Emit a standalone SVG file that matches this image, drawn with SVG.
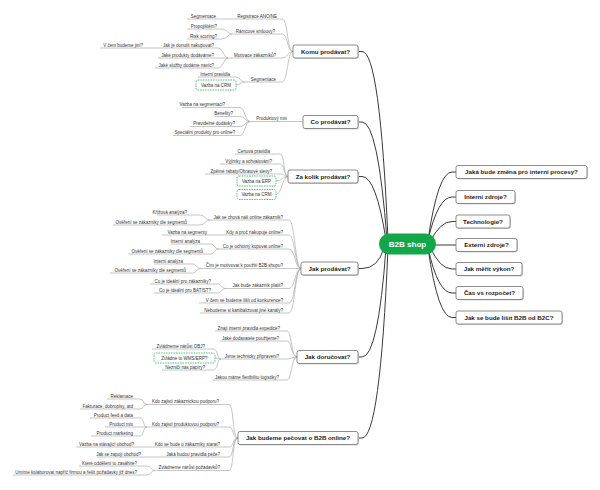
<svg xmlns="http://www.w3.org/2000/svg" width="600" height="490" viewBox="0 0 600 490">
<style>
.k{fill:none;stroke:#3a3a3a;stroke-width:1}
.c{fill:none;stroke:#a0a0a0;stroke-width:0.6}
.u{fill:none;stroke:#a0a0a0;stroke-width:0.6}
.t{font-family:"Liberation Sans",Arial,sans-serif;font-size:4.5px;fill:#333;text-anchor:end}
.sh{fill:#d6d6d6}
.bx{fill:#fff;stroke:#707070;stroke-width:0.8}
.mt{font-family:"Liberation Sans",Arial,sans-serif;font-size:6.2px;font-weight:bold;fill:#222;text-anchor:middle}
.g{fill:#fff;stroke:#3cc46b;stroke-width:0.9;stroke-dasharray:1.6 0.9}
.gt{font-family:"Liberation Sans",Arial,sans-serif;font-size:4.5px;fill:#333;text-anchor:middle}
</style>
<rect width="600" height="490" fill="#fff"/>
<g id="connectors">
<path class="k" d="M388 240 Q380 51.5 362 51.5 H358"/>
<path class="k" d="M387 240 Q378 122 362 122 H358"/>
<path class="k" d="M386 240 Q376 176.5 362 176.5 H358"/>
<path class="k" d="M384 248 Q378 268.5 362 268.5 H358"/>
<path class="k" d="M386 248 Q378 357 362 357 H358"/>
<path class="k" d="M388 248 Q380 438 362 438 H358"/>
<path class="k" d="M428 240 Q438 172 452 172 H456"/>
<path class="k" d="M428 240 Q438 197 452 197 H456"/>
<path class="k" d="M430 242 Q440 221.5 452 221.5 H456"/>
<path class="k" d="M434 245 H456"/>
<path class="k" d="M430 247 Q440 269 452 269 H456"/>
<path class="k" d="M428 248 Q438 293 452 293 H456"/>
<path class="k" d="M428 248 Q438 317.5 452 317.5 H456"/>
<path class="c" d="M293 51.5 C287 51.5 288 19 282 19"/>
<path class="c" d="M293 51.5 C287 51.5 288 34 282 34"/>
<path class="c" d="M293 51.5 C287 51.5 288 58 282 58"/>
<path class="c" d="M293 51.5 C287 51.5 288 82 282 82"/>
<path class="c" d="M232 34 C228 34 227 29 222 29"/>
<path class="c" d="M232 34 C228 34 227 39 222 39"/>
<path class="c" d="M228 58 C224 58 223 48 218 48"/>
<path class="c" d="M228 58 H218"/>
<path class="c" d="M228 58 C224 58 223 68 218 68"/>
<path class="c" d="M245 82 C241 82 240 77 236 77"/>
<path class="c" d="M245 82 C241 82 240 85 236 85"/>
<path class="c" d="M250 121.5 C245 121.5 245 107.5 240 107.5"/>
<path class="c" d="M250 121.5 C245 121.5 245 116.5 240 116.5"/>
<path class="c" d="M250 121.5 C245 121.5 245 126.5 240 126.5"/>
<path class="c" d="M250 121.5 C245 121.5 245 135.5 240 135.5"/>
<path class="c" d="M288 176.5 C283 176.5 285 154 280 154"/>
<path class="c" d="M288 176.5 C283 176.5 285 164 280 164"/>
<path class="c" d="M288 176.5 C283 176.5 285 174 280 174"/>
<path class="c" d="M288 176.5 C282 176.5 282 181 276 181"/>
<path class="c" d="M288 176.5 C282 176.5 282 194.5 276 194.5"/>
<path class="c" d="M301 268.5 C295 268.5 295 220 289 220"/>
<path class="c" d="M301 268.5 C295 268.5 295 235 289 235"/>
<path class="c" d="M301 268.5 C295 268.5 295 249 289 249"/>
<path class="c" d="M301 268.5 H289"/>
<path class="c" d="M301 268.5 C295 268.5 295 288.5 289 288.5"/>
<path class="c" d="M301 268.5 C295 268.5 295 303 289 303"/>
<path class="c" d="M301 268.5 C295 268.5 295 313 289 313"/>
<path class="c" d="M210 220 C205 220 205 215 200 215"/>
<path class="c" d="M210 220 C205 220 205 225 200 225"/>
<path class="c" d="M219 249 C214 249 215 244 210 244"/>
<path class="c" d="M219 249 C214 249 215 254 210 254"/>
<path class="c" d="M201 268.5 C196 268.5 197 264 192 264"/>
<path class="c" d="M201 268.5 C196 268.5 197 273 192 273"/>
<path class="c" d="M226 288.5 C221 288.5 222 284 217 284"/>
<path class="c" d="M226 288.5 C221 288.5 222 293 217 293"/>
<path class="c" d="M297 357 C291 357 292 331 287 331"/>
<path class="c" d="M297 357 C291 357 292 341 287 341"/>
<path class="c" d="M297 357 C291 357 292 359 287 359"/>
<path class="c" d="M297 357 C291 357 292 380 287 380"/>
<path class="c" d="M221 359 C217 359 218 349 213 349"/>
<path class="c" d="M221 359 C218 359 218 358 215 358"/>
<path class="c" d="M221 359 C217 359 218 370 213 370"/>
<path class="c" d="M238 438 C232 438 234 404.5 229 404.5"/>
<path class="c" d="M238 438 C232 438 234 427 229 427"/>
<path class="c" d="M238 438 C232 438 234 447 229 447"/>
<path class="c" d="M238 438 C232 438 234 457 229 457"/>
<path class="c" d="M238 438 C232 438 234 470.5 229 470.5"/>
<path class="c" d="M147 404.5 C143 404.5 144 399 140 399"/>
<path class="c" d="M147 404.5 C143 404.5 144 409 140 409"/>
<path class="c" d="M147 427 C143 427 144 418 140 418"/>
<path class="c" d="M147 427 H140"/>
<path class="c" d="M147 427 C143 427 144 436 140 436"/>
<path class="c" d="M155 470.5 C151 470.5 151 466 147 466"/>
<path class="c" d="M155 470.5 C151 470.5 151 475 147 475"/>
</g>

<g id="center">
<rect x="379" y="233.5" width="57" height="21" rx="10.5" fill="#12a84a"/>
<text x="407.5" y="247" font-family="Liberation Sans, Arial, sans-serif" font-size="8" font-weight="bold" fill="#fff" text-anchor="middle">B2B shop</text>
</g>

<g id="r-procesy"><rect class="sh" x="457" y="166.5" width="131" height="13" rx="2"/><rect class="bx" x="456" y="165.5" width="131" height="13" rx="2"/><text class="mt" x="521.5" y="174.2">Jaká bude změna pro interní procesy?</text></g>
<g id="r-interni"><rect class="sh" x="457" y="191.5" width="59" height="13" rx="2"/><rect class="bx" x="456" y="190.5" width="59" height="13" rx="2"/><text class="mt" x="485.5" y="199.2">Interní zdroje?</text></g>
<g id="r-technologie"><rect class="sh" x="457" y="216" width="54" height="13" rx="2"/><rect class="bx" x="456" y="215" width="54" height="13" rx="2"/><text class="mt" x="483" y="223.7">Technologie?</text></g>
<g id="r-externi"><rect class="sh" x="457" y="239.5" width="61" height="13" rx="2"/><rect class="bx" x="456" y="238.5" width="61" height="13" rx="2"/><text class="mt" x="486.5" y="247.2">Externí zdroje?</text></g>
<g id="r-vykon"><rect class="sh" x="457" y="263.5" width="66" height="13" rx="2"/><rect class="bx" x="456" y="262.5" width="66" height="13" rx="2"/><text class="mt" x="489" y="271.2">Jak měřit výkon?</text></g>
<g id="r-cas"><rect class="sh" x="457" y="287.5" width="67" height="13" rx="2"/><rect class="bx" x="456" y="286.5" width="67" height="13" rx="2"/><text class="mt" x="489.5" y="295.2">Čas vs rozpočet?</text></g>
<g id="r-lisit"><rect class="sh" x="457" y="312" width="106" height="13" rx="2"/><rect class="bx" x="456" y="311" width="106" height="13" rx="2"/><text class="mt" x="509" y="319.7">Jak se bude lišit B2B od B2C?</text></g>

<g id="komu"><rect class="sh" x="294" y="46" width="65" height="13" rx="2"/><rect class="bx" x="293" y="45" width="65" height="13" rx="2"/><text class="mt" x="325.5" y="53.7">Komu prodávat?</text></g>
<g id="k-registrace"><path class="u" d="M233 19H282"/><text class="t" x="277" y="17.7">Registrace ANO/NE</text></g>
<g id="k-segmentace-a"><path class="u" d="M187 19H233"/><text class="t" x="216" y="17.7">Segmentace</text></g>
<g id="k-ramcove"><path class="u" d="M232 34H282"/><text class="t" x="275" y="32.7">Rámcové smlouvy?</text></g>
<g id="k-propojisteni"><path class="u" d="M187 29H222"/><text class="t" x="217" y="27.7">Propojištění?</text></g>
<g id="k-risk"><path class="u" d="M187 39H222"/><text class="t" x="217" y="37.7">Risk scoring?</text></g>
<g id="k-motivace"><path class="u" d="M228 58H282"/><text class="t" x="276" y="56.7">Motivace zákazníků?</text></g>
<g id="k-donutit"><path class="u" d="M158 48H218"/><text class="t" x="214" y="46.7">Jak je donutit nakupovat?</text></g>
<g id="k-jini"><path class="u" d="M100 48H158"/><text class="t" x="143" y="46.7">V čem budeme jiní?</text></g>
<g id="k-produkty"><path class="u" d="M158 58H218"/><text class="t" x="214" y="56.7">Jaké produkty dodáváme?</text></g>
<g id="k-sluzby"><path class="u" d="M155 68H218"/><text class="t" x="214" y="66.7">Jaké služby dodáme navíc?</text></g>
<g id="k-segmentace-b"><path class="u" d="M245 82H282"/><text class="t" x="276" y="80.7">Segmentace</text></g>
<g id="k-pravidla"><path class="u" d="M198 77H236"/><text class="t" x="230" y="75.7">Interní pravidla</text></g>
<g id="k-crm"><rect class="g" x="196" y="80" width="40" height="10" rx="2"/><text class="gt" x="216" y="86.6">Vazba na CRM</text></g>

<g id="co"><rect class="sh" x="304" y="116.5" width="55" height="13" rx="2"/><rect class="bx" x="303" y="115.5" width="55" height="13" rx="2"/><text class="mt" x="330.5" y="124.2">Co prodávat?</text></g>
<g id="c-mix"><path class="u" d="M250 121.5H303"/><text class="t" x="287" y="120.2">Produktový mix</text></g>
<g id="c-segmentaci"><path class="u" d="M182 107.5H240"/><text class="t" x="225" y="106.2">Vazba na segmentaci?</text></g>
<g id="c-benefity"><path class="u" d="M215 116.5H240"/><text class="t" x="233" y="115.2">Benefity?</text></g>
<g id="c-dodavky"><path class="u" d="M190 126.5H240"/><text class="t" x="235" y="125.2">Pravidelné dodávky?</text></g>
<g id="c-specialni"><path class="u" d="M173 135.5H240"/><text class="t" x="235" y="134.2">Speciální produkty pro online?</text></g>

<g id="zakolik"><rect class="sh" x="289" y="171" width="70" height="13" rx="2"/><rect class="bx" x="288" y="170" width="70" height="13" rx="2"/><text class="mt" x="323" y="178.7">Za kolik prodávat?</text></g>
<g id="z-cenova"><path class="u" d="M235 154H280"/><text class="t" x="270" y="152.7">Cenová pravidla</text></g>
<g id="z-vyjimky"><path class="u" d="M220 164H280"/><text class="t" x="272" y="162.7">Výjimky a schvalování?</text></g>
<g id="z-rabaty"><path class="u" d="M205 174H280"/><text class="t" x="272" y="172.7">Zpětné rabaty/Obratové slevy?</text></g>
<g id="z-erp"><rect class="g" x="237" y="176" width="39" height="10" rx="2"/><text class="gt" x="256.5" y="182.6">Vazba na ERP</text></g>
<g id="z-crm"><rect class="g" x="237" y="189.5" width="39" height="10" rx="2"/><text class="gt" x="256.5" y="196.1">Vazba na CRM</text></g>

<g id="jakprodavat"><rect class="sh" x="302" y="263" width="57" height="13" rx="2"/><rect class="bx" x="301" y="262" width="57" height="13" rx="2"/><text class="mt" x="329.5" y="270.7">Jak prodávat?</text></g>
<g id="p-chova"><path class="u" d="M210 220H289"/><text class="t" x="283" y="218.7">Jak se chová náš online zákazník?</text></g>
<g id="p-krizova"><path class="u" d="M157 215H200"/><text class="t" x="187" y="213.7">Křížová analýza?</text></g>
<g id="p-overeni-a"><path class="u" d="M113 225H200"/><text class="t" x="187" y="223.7">Ověření se zákazníky dle segmentů</text></g>
<g id="p-kdy"><path class="u" d="M215 235H289"/><text class="t" x="283" y="233.7">Kdy a proč nakupuje online?</text></g>
<g id="p-segmenty"><path class="u" d="M162 235H215"/><text class="t" x="207" y="233.7">Vazba na segmenty</text></g>
<g id="p-ochotny"><path class="u" d="M219 249H289"/><text class="t" x="283" y="247.7">Co je ochotný kupovat online?</text></g>
<g id="p-analyza-a"><path class="u" d="M171 244H210"/><text class="t" x="200" y="242.7">Interní analýza</text></g>
<g id="p-overeni-b"><path class="u" d="M128 254H210"/><text class="t" x="203" y="252.7">Ověření se zákazníky dle segmentů</text></g>
<g id="p-motivovat"><path class="u" d="M201 268.5H289"/><text class="t" x="283" y="267.2">Čím je motivovat k použití B2B shopu?</text></g>
<g id="p-analyza-b"><path class="u" d="M154 264H192"/><text class="t" x="183" y="262.7">Interní analýza</text></g>
<g id="p-overeni-c"><path class="u" d="M110 273H192"/><text class="t" x="186" y="271.7">Ověření se zákazníky dle segmentů</text></g>
<g id="p-platit"><path class="u" d="M226 288.5H289"/><text class="t" x="283" y="287.2">Jak bude zákazník platit?</text></g>
<g id="p-idealni-a"><path class="u" d="M150 284H217"/><text class="t" x="211" y="282.7">Co je ideální pro zákazníky?</text></g>
<g id="p-idealni-b"><path class="u" d="M154 293H217"/><text class="t" x="211" y="291.7">Co je ideální pro BATIST?</text></g>
<g id="p-lisit"><path class="u" d="M199 303H289"/><text class="t" x="283" y="301.7">V čem se budeme lišit od konkurence?</text></g>
<g id="p-kanaly"><path class="u" d="M200 313H289"/><text class="t" x="283" y="311.7">Nebudeme si kanibalizovat jiné kanály?</text></g>

<g id="dorucovat"><rect class="sh" x="298" y="351.5" width="61" height="13" rx="2"/><rect class="bx" x="297" y="350.5" width="61" height="13" rx="2"/><text class="mt" x="327.5" y="359.2">Jak doručovat?</text></g>
<g id="d-expedice"><path class="u" d="M215 331H287"/><text class="t" x="280" y="329.7">Znají interní pravidla expedice?</text></g>
<g id="d-dodavatele"><path class="u" d="M220 341H287"/><text class="t" x="279" y="339.7">Jaké dodavatele použijeme?</text></g>
<g id="d-pripraveni"><path class="u" d="M221 359H287"/><text class="t" x="279" y="357.7">Jsme technicky připraveni?</text></g>
<g id="d-obj"><path class="u" d="M152 349H213"/><text class="t" x="205" y="347.7">Zvládneme nárůst OBJ?</text></g>
<g id="d-wms"><rect class="g" x="154" y="353" width="61" height="10" rx="2"/><text class="gt" x="184.5" y="359.6">Zvládne to WMS/ERP?</text></g>
<g id="d-papiry"><path class="u" d="M162 370H213"/><text class="t" x="205" y="368.7">Nezničí nás papíry?</text></g>
<g id="d-flexibilita"><path class="u" d="M213 380H287"/><text class="t" x="279" y="378.7">Jakou máme flexibilitu logistiky?</text></g>

<g id="pecovat"><rect class="sh" x="239" y="432.5" width="120" height="13" rx="2"/><rect class="bx" x="238" y="431.5" width="120" height="13" rx="2"/><text class="mt" x="298" y="440.2">Jak budeme pečovat o B2B online?</text></g>
<g id="e-zakaznicka"><path class="u" d="M147 404.5H229"/><text class="t" x="219" y="403.2">Kdo zajistí zákaznickou podporu?</text></g>
<g id="e-reklamace"><path class="u" d="M107 399H140"/><text class="t" x="133" y="397.7">Reklamace</text></g>
<g id="e-fakturace"><path class="u" d="M80 409H140"/><text class="t" x="133" y="407.7">Fakturace, dobropisy, atd</text></g>
<g id="e-produktova"><path class="u" d="M147 427H229"/><text class="t" x="219" y="425.7">Kdo zajistí produktovou podporu?</text></g>
<g id="e-feed"><path class="u" d="M90 418H140"/><text class="t" x="133" y="416.7">Product feed a data</text></g>
<g id="e-mix"><path class="u" d="M105 427H140"/><text class="t" x="133" y="425.7">Product mix</text></g>
<g id="e-marketing"><path class="u" d="M91 436H140"/><text class="t" x="133" y="434.7">Product marketing</text></g>
<g id="e-starat"><path class="u" d="M152 447H229"/><text class="t" x="220" y="445.7">Kdo se bude o zákazníky starat?</text></g>
<g id="e-obchod"><path class="u" d="M76 447H152"/><text class="t" x="134" y="445.7">Vazba na stávající obchod?</text></g>
<g id="e-pravidla"><path class="u" d="M163 457H229"/><text class="t" x="220" y="455.7">Jaká budou pravidla péče?</text></g>
<g id="e-zapoji"><path class="u" d="M97 457H163"/><text class="t" x="141" y="455.7">Jak se zapojí obchod?</text></g>
<g id="e-narust"><path class="u" d="M155 470.5H229"/><text class="t" x="220" y="469.2">Zvládneme nárůst požadavků?</text></g>
<g id="e-oddeleni"><path class="u" d="M79 466H147"/><text class="t" x="137" y="464.7">Které oddělení to zasáhne?</text></g>
<g id="e-kolaborovat"><path class="u" d="M13 475H147"/><text class="t" x="137" y="473.7">Umíme kolaborovat napříč firmou a řešit požadavky již dnes?</text></g>
</svg>
